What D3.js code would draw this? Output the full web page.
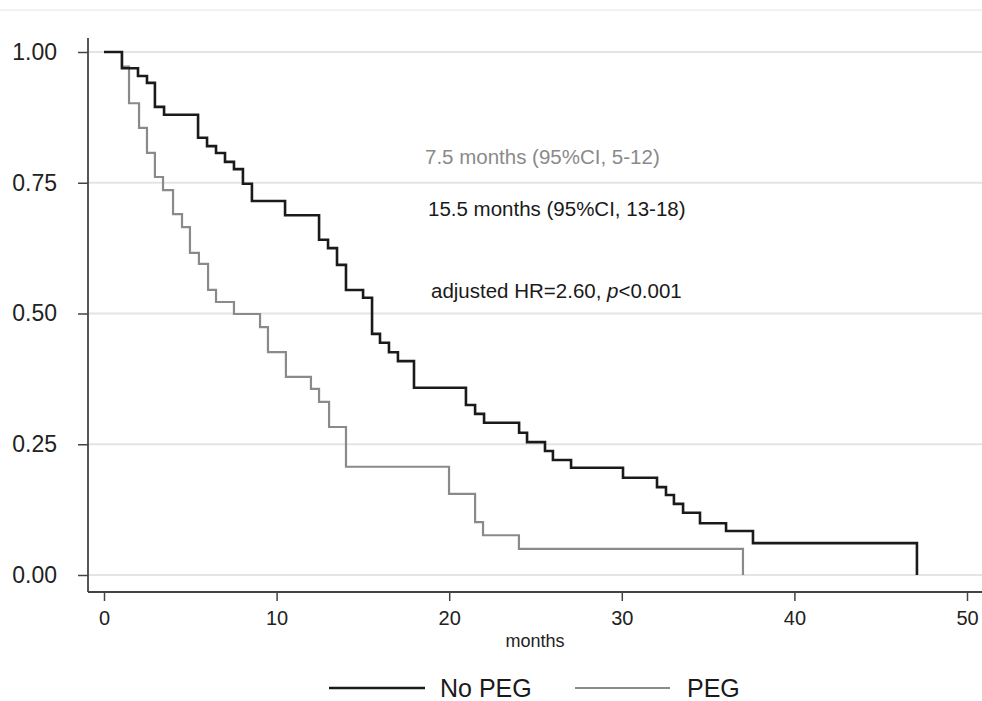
<!DOCTYPE html>
<html>
<head>
<meta charset="utf-8">
<script src="https://cdn.jsdelivr.net/npm/d3@7"></script>
<style>
  body { margin: 0; background: #fff; }
  svg { display: block; font-family: "Liberation Sans", Arial, sans-serif; }
</style>
</head>
<body>
<div id="km"></div>
<script>
// Kaplan-Meier steps (months, survival after the drop)
const noPegTimes = [0, 1.04, 1.97, 2.49, 2.95, 3.48, 5.45, 5.97, 6.49, 7.01, 7.53, 8.05, 8.57, 10.49, 12.46, 12.98, 13.50, 14.02, 15.01, 15.53, 15.99, 16.51, 17.03, 17.96, 20.97, 21.50, 22.02, 24.05, 24.51, 25.55, 26.01, 27.06, 30.07, 32.04, 32.56, 33.02, 33.55, 34.53, 36.04, 37.60, 47.10];
const noPegSurv  = [1, 0.969, 0.954, 0.941, 0.895, 0.880, 0.836, 0.820, 0.807, 0.790, 0.776, 0.748, 0.715, 0.688, 0.641, 0.625, 0.593, 0.545, 0.530, 0.461, 0.444, 0.426, 0.409, 0.358, 0.325, 0.308, 0.291, 0.272, 0.254, 0.237, 0.220, 0.205, 0.186, 0.168, 0.153, 0.136, 0.119, 0.099, 0.084, 0.061, 0];

const pegTimes = [0, 1.04, 1.45, 2.03, 2.49, 2.95, 3.42, 4.00, 4.52, 4.98, 5.50, 6.03, 6.49, 7.53, 9.04, 9.50, 10.54, 11.99, 12.46, 13.04, 14.02, 19.99, 21.50, 21.96, 24.04, 37.02];
const pegSurv  = [1, 0.972, 0.902, 0.855, 0.807, 0.761, 0.736, 0.690, 0.665, 0.616, 0.595, 0.545, 0.522, 0.499, 0.474, 0.426, 0.379, 0.356, 0.331, 0.283, 0.207, 0.155, 0.101, 0.076, 0.050, 0];

const xTicks = [0, 10, 20, 30, 40, 50];
const yTicks = [0, 0.25, 0.5, 0.75, 1];

const groups = ["No PEG", "PEG"];
const notes = ["7.5 months (95%CI, 5-12)", "15.5 months (95%CI, 13-18)"];

const width = 982, height = 701;
const black = "#1a1a1a", grey = "#8a8a8a";

const svg = d3.select("#km")
  .append("svg")
  .attr("width", width)
  .attr("height", height);

const x = d3.scaleLinear().domain([0, 50]).range([104, 967]);
const y = d3.scaleLinear().domain([0, 1]).range([575, 52]);

// faint frame line at the very top
svg.append("line")
  .attr("x1", 0).attr("x2", width)
  .attr("y1", 10).attr("y2", 10)
  .attr("stroke", "#eeeeee")
  .attr("stroke-width", 1.5);

// grid lines
svg.append("g")
  .selectAll("line")
  .data(yTicks)
  .enter()
  .append("line")
  .attr("x1", 89).attr("x2", width)
  .attr("y1", d => y(d)).attr("y2", d => y(d))
  .attr("stroke", "#e4e4e4")
  .attr("stroke-width", 2);

// y axis
const yAxis = svg.append("g")
  .attr("transform", "translate(88,0)")
  .call(d3.axisLeft(y).tickValues(yTicks).tickFormat(d3.format(".2f")).tickSize(10).tickPadding(21));
yAxis.select(".domain").remove();
yAxis.selectAll("line").attr("stroke", "#444").attr("stroke-width", 1.5);
yAxis.selectAll("text").attr("fill", "#222").style("font-size", "23px").attr("font-family", null);

svg.append("line")
  .attr("x1", 88).attr("x2", 88)
  .attr("y1", 38).attr("y2", 592)
  .attr("stroke", "#444")
  .attr("stroke-width", 1.8);

// x axis
const xAxis = svg.append("g")
  .attr("transform", "translate(0,592)")
  .call(d3.axisBottom(x).tickValues(xTicks).tickFormat(d3.format("d")).tickSize(9).tickPadding(10));
xAxis.select(".domain").remove();
xAxis.selectAll("line").attr("stroke", "#444").attr("stroke-width", 1.5);
xAxis.selectAll("text").attr("fill", "#222").style("font-size", "20px").attr("font-family", null);

svg.append("line")
  .attr("x1", 88).attr("x2", width)
  .attr("y1", 592).attr("y2", 592)
  .attr("stroke", "#444")
  .attr("stroke-width", 1.8);

svg.append("text")
  .attr("x", 535)
  .attr("y", 647)
  .attr("text-anchor", "middle")
  .attr("fill", "#222")
  .style("font-size", "18px")
  .text("months");

// survival curves
const line = d3.line()
  .x(d => x(d[0]))
  .y(d => y(d[1]))
  .curve(d3.curveStepAfter);

svg.append("path")
  .datum(d3.zip(pegTimes, pegSurv))
  .attr("fill", "none")
  .attr("stroke", grey)
  .attr("stroke-width", 2.2)
  .attr("d", line);

svg.append("path")
  .datum(d3.zip(noPegTimes, noPegSurv))
  .attr("fill", "none")
  .attr("stroke", black)
  .attr("stroke-width", 2.6)
  .attr("d", line);

// annotations
svg.append("text")
  .attr("x", 425).attr("y", 164)
  .attr("fill", grey)
  .style("font-size", "20.5px")
  .text(notes[0]);

svg.append("text")
  .attr("x", 428).attr("y", 216)
  .attr("fill", black)
  .style("font-size", "20.5px")
  .text(notes[1]);

const hr = svg.append("text")
  .attr("x", 431).attr("y", 298)
  .attr("fill", black)
  .style("font-size", "20.5px");
hr.append("tspan").text("adjusted HR=2.60, ");
hr.append("tspan").style("font-style", "italic").text("p");
hr.append("tspan").text("<0.001");

// legend
const legend = svg.append("g");
const legendX = [[329, 425, 440], [575, 670, 687]];
groups.forEach((g, i) => {
  legend.append("line")
    .attr("x1", legendX[i][0]).attr("x2", legendX[i][1])
    .attr("y1", 688).attr("y2", 688)
    .attr("stroke", i === 0 ? black : grey)
    .attr("stroke-width", i === 0 ? 2.6 : 2.2);
  legend.append("text")
    .attr("x", legendX[i][2]).attr("y", 688)
    .attr("dy", "0.35em")
    .attr("fill", black)
    .style("font-size", "25px")
    .text(g);
});
</script>
</body>
</html>
